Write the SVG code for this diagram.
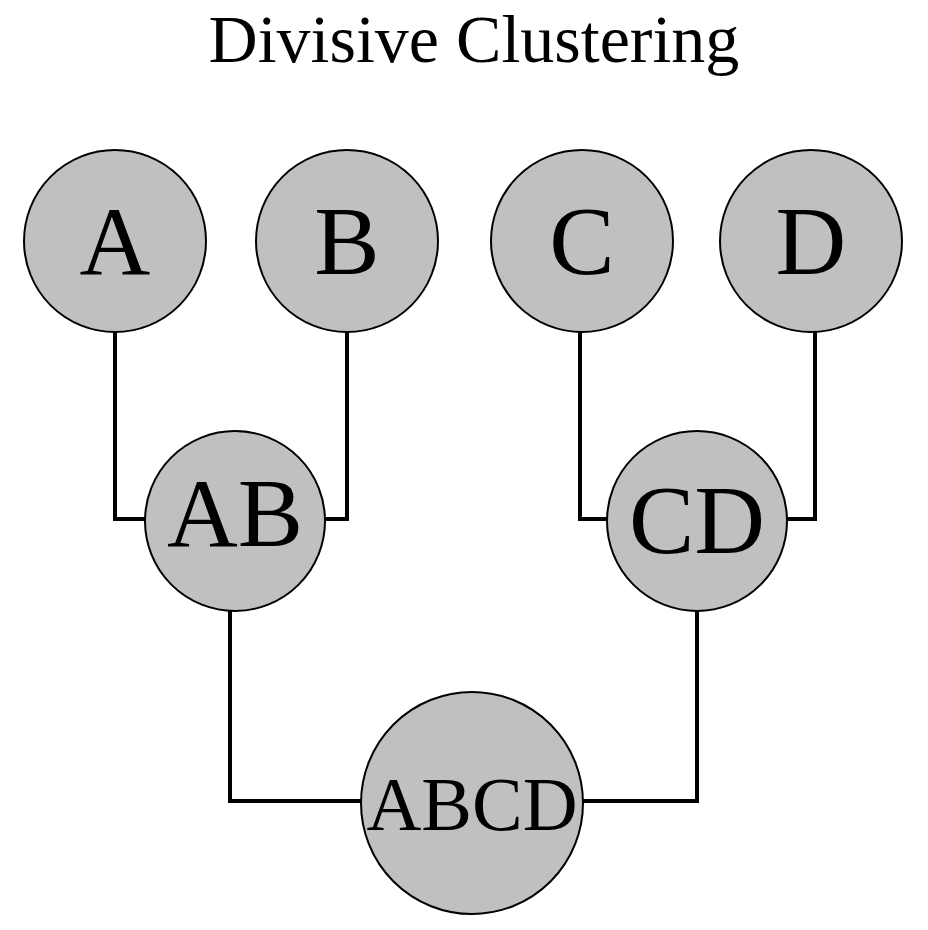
<svg xmlns="http://www.w3.org/2000/svg" width="928" height="930" viewBox="0 0 928 930">
<style>
.node circle{fill:#c0c0c0;stroke:#000;stroke-width:2}
.node text{font-family:"Liberation Serif","Times New Roman",serif;fill:#000;text-anchor:middle}
.big{font-size:98px}
.abcd{font-size:76px}
.title{font-family:"Liberation Serif","Times New Roman",serif;font-size:68px;fill:#000;text-anchor:middle}
#connectors path{fill:none;stroke:#000;stroke-width:4;stroke-linejoin:miter}
</style>
<rect width="928" height="930" fill="#fff"/>
<text class="title" x="474" y="62">Divisive Clustering</text>
<g id="connectors">
<path d="M115,330 V519 H146"/>
<path d="M347,328 V519 H325"/>
<path d="M580,330 V519 H607"/>
<path d="M815,328 V519 H787"/>
<path d="M230,610 V801 H362"/>
<path d="M697,610 V801 H583"/>
</g>
<g id="node-A" class="node"><circle cx="115" cy="241" r="91"/><text class="big" x="115" y="274">A</text></g>
<g id="node-B" class="node"><circle cx="347" cy="241" r="91"/><text class="big" x="347" y="274">B</text></g>
<g id="node-C" class="node"><circle cx="582" cy="241" r="91"/><text class="big" x="582" y="274">C</text></g>
<g id="node-D" class="node"><circle cx="811" cy="241" r="91"/><text class="big" x="811" y="274">D</text></g>
<g id="node-AB" class="node"><circle cx="235" cy="521" r="90"/><text class="big" x="235" y="546">AB</text></g>
<g id="node-CD" class="node"><circle cx="697" cy="521" r="90"/><text class="big" x="697" y="553">CD</text></g>
<g id="node-ABCD" class="node"><circle cx="472" cy="803" r="111"/><text class="abcd" x="472" y="830">ABCD</text></g>
</svg>
